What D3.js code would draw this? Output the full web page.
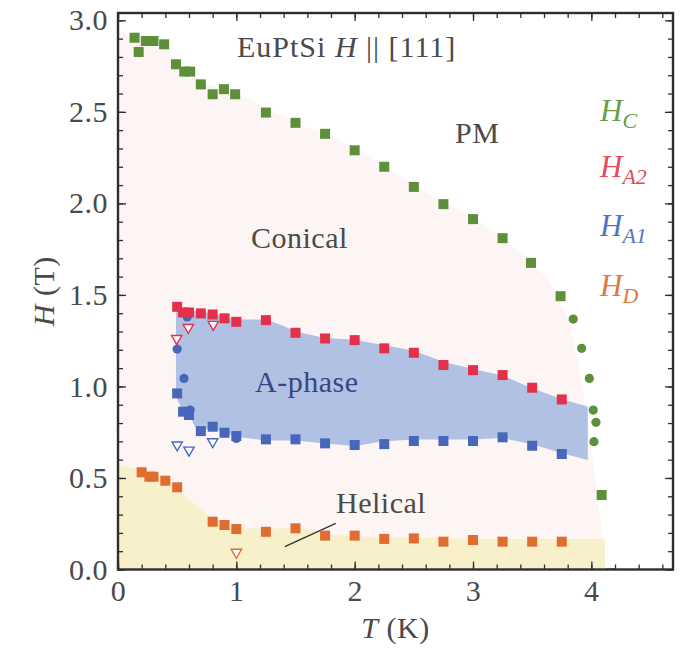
<!DOCTYPE html>
<html>
<head>
<meta charset="utf-8">
<script src="https://cdn.jsdelivr.net/npm/d3@7"></script>
<style>
  html, body { margin: 0; padding: 0; background: #fff; }
  svg { display: block; }
  text { font-family: "Liberation Serif", "DejaVu Serif", serif; }
</style>
</head>
<body>
<svg id="chart" width="682" height="650"></svg>
<script>
// EuPtSi, H || [111]: phase diagram, temperature T (K) vs field H (T)

// H_C : transition to the field-polarised state
const hcSquares = [
  [0.14, 2.905], [0.175, 2.827], [0.235, 2.887], [0.30, 2.887], [0.39, 2.869],
  [0.49, 2.76], [0.56, 2.72], [0.61, 2.72], [0.70, 2.65], [0.80, 2.596],
  [0.895, 2.624], [0.99, 2.596], [1.25, 2.496], [1.50, 2.44], [1.75, 2.38],
  [2.0, 2.29], [2.25, 2.20], [2.5, 2.09], [2.75, 1.996], [3.0, 1.914],
  [3.25, 1.81], [3.49, 1.675], [3.74, 1.493], [4.087, 0.407], [4.17, -0.02]
];
const hcCircles = [
  [3.847, 1.368], [3.918, 1.208], [3.983, 1.044], [4.016, 0.871], [4.039, 0.804], [4.022, 0.698]
];

// H_A2 : upper boundary of the A-phase
const ha2Squares = [
  [0.5, 1.435], [0.55, 1.404], [0.6, 1.404], [0.7, 1.399], [0.8, 1.393], [0.9, 1.372],
  [1.0, 1.353], [1.25, 1.362], [1.5, 1.293], [1.75, 1.262], [2.0, 1.253], [2.25, 1.208],
  [2.5, 1.184], [2.75, 1.117], [3.0, 1.089], [3.25, 1.062], [3.5, 0.993], [3.75, 0.929]
];
const ha2Triangles = [[0.496, 1.262], [0.594, 1.322], [0.805, 1.339]];

// H_A1 : lower boundary of the A-phase
const ha1Squares = [
  [0.5, 0.962], [0.55, 0.862], [0.6, 0.844], [0.7, 0.756], [0.8, 0.780], [0.9, 0.747],
  [1.0, 0.729], [1.25, 0.711], [1.5, 0.711], [1.75, 0.689], [2.0, 0.680], [2.25, 0.685],
  [2.5, 0.702], [2.75, 0.702], [3.0, 0.702], [3.25, 0.722], [3.5, 0.676], [3.75, 0.631]
];
const ha1Circles = [[0.50, 1.204], [0.558, 1.044], [0.585, 1.38], [0.61, 0.871], [1.0, 0.716]];
const ha1Triangles = [[0.50, 0.680], [0.60, 0.652], [0.80, 0.698]];

// H_D : helical to conical crossover
const hdSquares = [
  [0.20, 0.531], [0.265, 0.507], [0.30, 0.507], [0.40, 0.485], [0.50, 0.449],
  [0.80, 0.261], [0.90, 0.243], [1.0, 0.221], [1.25, 0.206], [1.5, 0.225],
  [1.75, 0.185], [2.0, 0.185], [2.25, 0.167], [2.5, 0.170], [2.75, 0.152],
  [3.0, 0.161], [3.25, 0.152], [3.5, 0.152], [3.75, 0.152]
];
const hdTriangles = [[1.0, 0.094]];

// Shaded phase regions
const orderedBoundary = [
  [0, 2.945], [0.14, 2.90], [0.3, 2.88], [0.4, 2.86], [0.5, 2.76], [0.7, 2.67],
  [1.1, 2.57], [1.5, 2.44], [2.0, 2.31], [2.5, 2.10], [3.0, 1.92], [3.25, 1.81],
  [3.5, 1.68], [3.64, 1.58], [3.81, 1.36], [3.93, 1.0], [4.04, 0.45], [4.11, 0.09], [4.12, 0]
];
const aPhaseTop = [
  [0.49, 1.44], [0.6, 1.415], [0.8, 1.40], [0.9, 1.38], [1.0, 1.365], [1.25, 1.365],
  [1.4, 1.33], [1.5, 1.30], [1.75, 1.265], [2.0, 1.255], [2.25, 1.225], [2.5, 1.195],
  [2.75, 1.135], [3.0, 1.095], [3.25, 1.06], [3.5, 0.99], [3.75, 0.93], [3.97, 0.89]
];
const aPhaseBottom = [
  [3.97, 0.598], [3.75, 0.635], [3.5, 0.684], [3.25, 0.718], [3.0, 0.71], [2.5, 0.71],
  [2.25, 0.70], [2.0, 0.675], [1.75, 0.688], [1.5, 0.705], [1.25, 0.705], [1.0, 0.725],
  [0.9, 0.745], [0.8, 0.775], [0.7, 0.76], [0.65, 0.78], [0.6, 0.845], [0.55, 0.865],
  [0.5, 0.93], [0.49, 0.96]
];
const helicalTop = [
  [0, 0.57], [0.2, 0.545], [0.4, 0.50], [0.52, 0.44], [0.6, 0.38], [0.75, 0.30],
  [0.97, 0.23], [1.25, 0.22], [1.5, 0.23], [1.82, 0.19], [2.0, 0.18], [3.0, 0.167],
  [4.115, 0.167], [4.115, 0]
];
const helicalPointer = [[1.41, 0.125], [1.84, 0.252]];

const xMajor = [0, 1, 2, 3, 4];
const xMinor = d3.range(0, 4.7, 0.2);
const yMajor = [0, 0.5, 1.0, 1.5, 2.0, 2.5, 3.0];
const yMinor = d3.range(0, 3.05, 0.1);

const C = {
  green: "#5e8f3b", red: "#e4304b", blue: "#4767ba", orange: "#de6d2f",
  greenText: "#6c9c48", redText: "#e6485c", blueText: "#5574c4", orangeText: "#e07a3c",
  pm: "#fdf4f4", aphase: "#b1c1e4", helical: "#f8efcb", frame: "#2e2e2e", text: "#4a4a4a"
};

const svg = d3.select("#chart");
const L = 118, R = 673, T0 = 13, B = 569.5;
const x = d3.scaleLinear().domain([0, 4.69]).range([L, R]);
const y = d3.scaleLinear().domain([0, 3.04]).range([B, T0]);

svg.append("rect").attr("width", 682).attr("height", 650).attr("fill", "#fff");

svg.append("defs").append("clipPath").attr("id", "plot")
  .append("rect").attr("x", L).attr("y", T0).attr("width", R - L).attr("height", B - T0);

const plot = svg.append("g").attr("clip-path", "url(#plot)");
const line = d3.line().x(d => x(d[0])).y(d => y(d[1]));

// regions
plot.append("path")
  .attr("d", line([[0, 0], ...orderedBoundary]) + "Z")
  .attr("fill", C.pm);
plot.append("path")
  .attr("d", line([[0, 0], ...helicalTop]) + "Z")
  .attr("fill", C.helical);
plot.append("path")
  .attr("d", line([...aPhaseTop, ...aPhaseBottom]) + "Z")
  .attr("fill", C.aphase);

plot.append("path")
  .attr("d", line(helicalPointer))
  .attr("stroke", "#333").attr("stroke-width", 1.3).attr("fill", "none");

// region labels
const labels = svg.append("g").attr("font-size", 30).attr("fill", C.text);
labels.append("text").attr("x", 251).attr("y", 248).attr("letter-spacing", 0.5).text("Conical");
labels.append("text").attr("x", 455).attr("y", 143).attr("letter-spacing", 0.5).text("PM");
labels.append("text").attr("x", 336).attr("y", 513).attr("letter-spacing", 0.5).text("Helical");
labels.append("text").attr("x", 255).attr("y", 392).attr("letter-spacing", 0.5)
  .attr("fill", "#3d4381").text("A-phase");

const title = labels.append("text").attr("x", 237).attr("y", 57).attr("letter-spacing", 1);
title.append("tspan").text("EuPtSi ");
title.append("tspan").attr("font-style", "italic").text("H");
title.append("tspan").text(" || [111]");

// markers
const sq = 10;
function squares(data, color) {
  plot.append("g").selectAll("rect").data(data).join("rect")
    .attr("x", d => x(d[0]) - sq / 2).attr("y", d => y(d[1]) - sq / 2)
    .attr("width", sq).attr("height", sq).attr("fill", color);
}
function circles(data, color) {
  plot.append("g").selectAll("circle").data(data).join("circle")
    .attr("cx", d => x(d[0])).attr("cy", d => y(d[1])).attr("r", 4.6).attr("fill", color);
}
function triangles(data, color) {
  const tri = d3.symbol().type(d3.symbolTriangle).size(46);
  plot.append("g").selectAll("path").data(data).join("path")
    .attr("d", tri)
    .attr("transform", d => `translate(${x(d[0])},${y(d[1])}) rotate(180)`)
    .attr("fill", "#fff").attr("stroke", color).attr("stroke-width", 1.4);
}
circles(ha1Circles, C.blue);
squares(ha1Squares, C.blue);
triangles(ha1Triangles, C.blue);
squares(ha2Squares, C.red);
triangles(ha2Triangles, C.red);
squares(hdSquares, C.orange);
triangles(hdTriangles, C.orange);
squares(hcSquares, C.green);
circles(hcCircles, C.green);

// axes: inward ticks on all four sides
function styleAxis(g) {
  g.select(".domain").remove();
  g.selectAll("line").attr("stroke", C.frame).attr("stroke-width", 1.3);
  g.selectAll("text").attr("font-size", 30).attr("fill", "#4a4a4a")
    .attr("font-family", "Liberation Serif, serif").attr("letter-spacing", 0.5);
}
const noLabel = () => "";
svg.append("g").attr("transform", `translate(0,${B})`)
  .call(d3.axisBottom(x).tickValues(xMinor).tickSize(-5).tickFormat(noLabel)).call(styleAxis);
svg.append("g").attr("transform", `translate(0,${B})`)
  .call(d3.axisBottom(x).tickValues(xMajor).tickSize(-8).tickPadding(10).tickFormat(d3.format("d")))
  .call(styleAxis);
svg.append("g").attr("transform", `translate(0,${T0})`)
  .call(d3.axisTop(x).tickValues(xMinor).tickSize(-5).tickFormat(noLabel)).call(styleAxis);
svg.append("g").attr("transform", `translate(0,${T0})`)
  .call(d3.axisTop(x).tickValues(xMajor).tickSize(-8).tickFormat(noLabel)).call(styleAxis);
svg.append("g").attr("transform", `translate(${L},0)`)
  .call(d3.axisLeft(y).tickValues(yMinor).tickSize(-5).tickFormat(noLabel)).call(styleAxis);
svg.append("g").attr("transform", `translate(${L},0)`)
  .call(d3.axisLeft(y).tickValues(yMajor).tickSize(-8).tickPadding(10).tickFormat(d3.format(".1f")))
  .call(styleAxis);
svg.append("g").attr("transform", `translate(${R},0)`)
  .call(d3.axisRight(y).tickValues(yMinor).tickSize(-5).tickFormat(noLabel)).call(styleAxis);
svg.append("g").attr("transform", `translate(${R},0)`)
  .call(d3.axisRight(y).tickValues(yMajor).tickSize(-8).tickFormat(noLabel)).call(styleAxis);

svg.append("rect")
  .attr("x", L).attr("y", T0).attr("width", R - L).attr("height", B - T0)
  .attr("fill", "none").attr("stroke", C.frame).attr("stroke-width", 2.4);

// axis titles
const xt = svg.append("text").attr("x", (L + R) / 2).attr("y", 638)
  .attr("text-anchor", "middle").attr("font-size", 30).attr("fill", C.text).attr("letter-spacing", 0.5);
xt.append("tspan").attr("font-style", "italic").text("T");
xt.append("tspan").text(" (K)");

const yt = svg.append("text")
  .attr("transform", `translate(54,${(T0 + B) / 2}) rotate(-90)`)
  .attr("text-anchor", "middle").attr("font-size", 30).attr("fill", C.text).attr("letter-spacing", 0.5);
yt.append("tspan").attr("font-style", "italic").text("H");
yt.append("tspan").text(" (T)");

// legend
const legend = [
  { main: "H", sub: "C", color: C.greenText, y: 121 },
  { main: "H", sub: "A2", color: C.redText, y: 177 },
  { main: "H", sub: "A1", color: C.blueText, y: 236 },
  { main: "H", sub: "D", color: C.orangeText, y: 296 }
];
const lg = svg.append("g").attr("font-style", "italic");
legend.forEach(d => {
  const t = lg.append("text").attr("x", 600).attr("y", d.y).attr("fill", d.color).attr("font-size", 31);
  t.append("tspan").text(d.main);
  t.append("tspan").attr("font-size", 22).attr("dy", 7).text(d.sub);
});
</script>
</body>
</html>
